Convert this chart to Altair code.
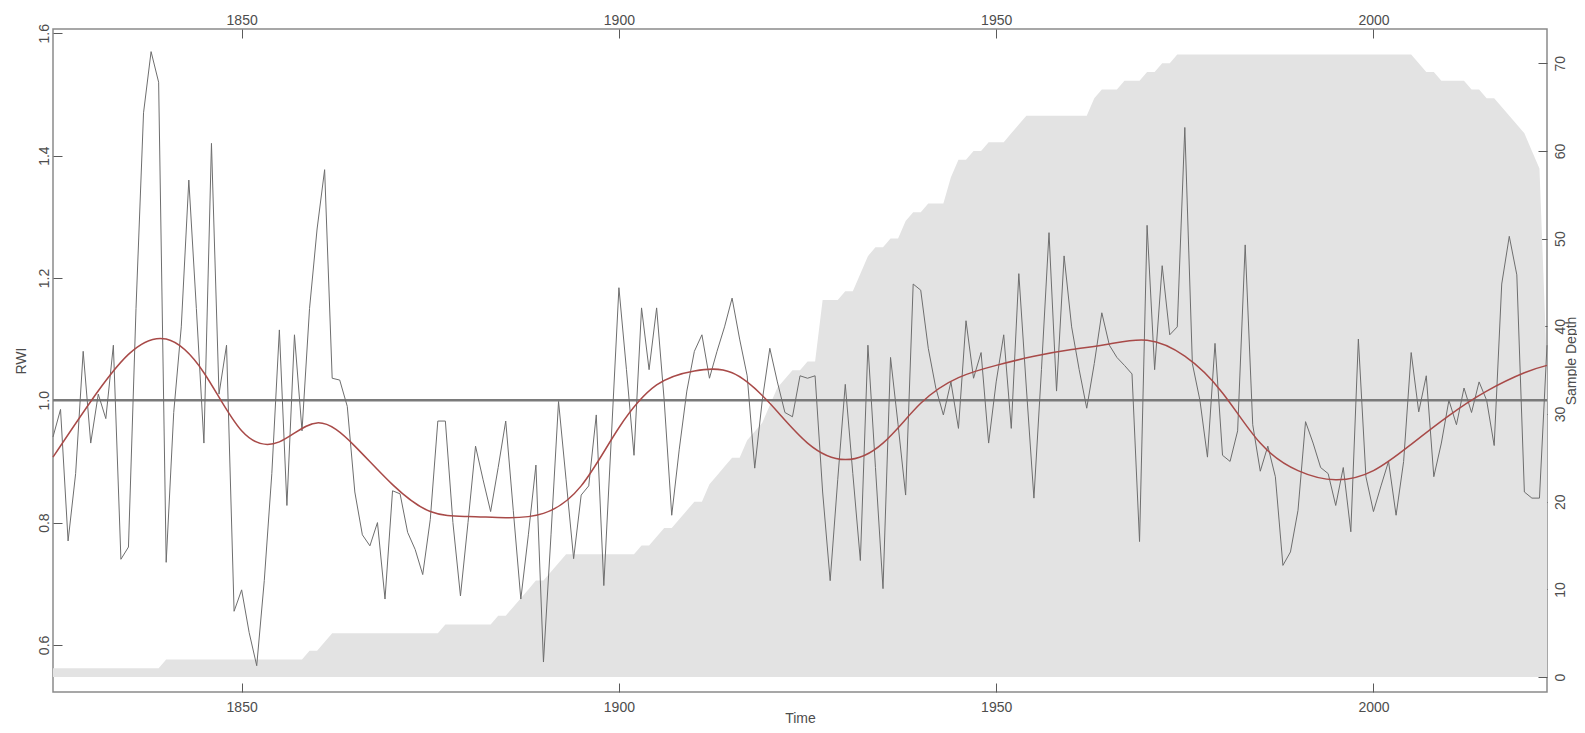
import altair as alt
import pandas as pd

# ---------------- data ----------------
years = list(range(1825, 2024))

rwi = [
    # 1825-1849
    0.94, 0.985, 0.77, 0.88, 1.08, 0.93, 1.01, 0.97, 1.09, 0.74,
    0.76, 1.15, 1.47, 1.57, 1.52, 0.735, 0.98, 1.12, 1.36, 1.15,
    0.93, 1.42, 1.01, 1.09, 0.655,
    # 1850-1874
    0.69, 0.62, 0.566, 0.705, 0.88, 1.115, 0.828, 1.107, 0.95, 1.15,
    1.28, 1.377, 1.036, 1.033, 0.99, 0.85, 0.78, 0.762, 0.80, 0.675,
    0.852, 0.847, 0.784, 0.756, 0.715,
    # 1875-1899
    0.805, 0.966, 0.966, 0.80, 0.68, 0.80, 0.925, 0.87, 0.818, 0.89,
    0.966, 0.82, 0.675, 0.78, 0.894, 0.572, 0.78, 0.998, 0.87, 0.741,
    0.845, 0.86, 0.976, 0.697, 0.94,
    # 1900-1924
    1.184, 1.05, 0.91, 1.151, 1.05, 1.151, 1.00, 0.812, 0.92, 1.015,
    1.08, 1.107, 1.036, 1.08, 1.12, 1.167, 1.10, 1.04, 0.889, 1.00,
    1.085, 1.03, 0.98, 0.973, 1.04,
    # 1925-1949
    1.036, 1.04, 0.85, 0.705, 0.87, 1.026, 0.88, 0.738, 1.09, 0.89,
    0.692, 1.07, 0.96, 0.845, 1.19, 1.18, 1.085, 1.02, 0.976, 1.03,
    0.954, 1.13, 1.036, 1.078, 0.93,
    # 1950-1974
    1.03, 1.107, 0.954, 1.207, 1.02, 0.84, 1.05, 1.274, 1.015, 1.236,
    1.12, 1.05, 0.987, 1.06, 1.143, 1.09, 1.07, 1.057, 1.043, 0.769,
    1.286, 1.05, 1.22, 1.107, 1.12,
    # 1975-1999
    1.446, 1.06, 1.0, 0.907, 1.093, 0.91, 0.90, 0.95, 1.254, 0.96,
    0.884, 0.925, 0.875, 0.73, 0.752, 0.82, 0.965, 0.93, 0.89, 0.88,
    0.828, 0.89, 0.785, 1.10, 0.875,
    # 2000-2023
    0.818, 0.86, 0.90, 0.812, 0.90, 1.078, 0.981, 1.04, 0.875, 0.93,
    1.00, 0.96, 1.02, 0.98, 1.03, 1.00, 0.926, 1.19, 1.268, 1.205,
    0.85, 0.84, 0.84, 1.09,
]

sample_depth = [
    # 1825-1849
    1, 1, 1, 1, 1, 1, 1, 1, 1, 1, 1, 1, 1, 1, 1,
    2, 2, 2, 2, 2, 2, 2, 2, 2, 2,
    # 1850-1874
    2, 2, 2, 2, 2, 2, 2, 2, 2, 3, 3, 4, 5, 5, 5, 5, 5, 5, 5, 5,
    5, 5, 5, 5, 5,
    # 1875-1899
    5, 5, 6, 6, 6, 6, 6, 6, 6, 7, 7, 8, 9, 10, 11, 11, 12, 13, 14, 14,
    14, 14, 14, 14, 14,
    # 1900-1924
    14, 14, 14, 15, 15, 16, 17, 17, 18, 19, 20, 20, 22, 23, 24, 25, 25, 27, 28, 29,
    31, 33, 34, 35, 35,
    # 1925-1949
    36, 36, 43, 43, 43, 44, 44, 46, 48, 49, 49, 50, 50, 52, 53, 53, 54, 54, 54, 57,
    59, 59, 60, 60, 61,
    # 1950-1974
    61, 61, 62, 63, 64, 64, 64, 64, 64, 64, 64, 64, 64, 66, 67, 67, 67, 68, 68, 68,
    69, 69, 70, 70, 71,
    # 1975-1999
    71, 71, 71, 71, 71, 71, 71, 71, 71, 71, 71, 71, 71, 71, 71, 71, 71, 71, 71, 71,
    71, 71, 71, 71, 71,
    # 2000-2023
    71, 71, 71, 71, 71, 71, 70, 69, 69, 68, 68, 68, 68, 67, 67, 66, 66, 65, 64, 63,
    62, 60, 58, 35,
]

spline_years = [1825, 1830, 1835, 1840, 1845, 1850, 1855, 1860, 1865, 1870,
                1875, 1880, 1885, 1890, 1895, 1900, 1905, 1910, 1915, 1920,
                1925, 1930, 1935, 1940, 1945, 1950, 1955, 1960, 1965, 1970,
                1975, 1980, 1985, 1990, 1995, 2000, 2005, 2010, 2015, 2020, 2023]
spline_vals = [0.907, 0.998, 1.075, 1.100, 1.045, 0.950, 0.932, 0.963, 0.925, 0.862,
               0.818, 0.810, 0.808, 0.815, 0.860, 0.955, 1.025, 1.048, 1.045, 0.995,
               0.930, 0.903, 0.930, 0.995, 1.037, 1.057, 1.072, 1.083, 1.092, 1.098,
               1.072, 1.012, 0.930, 0.885, 0.870, 0.885, 0.928, 0.975, 1.015, 1.045, 1.057]

ref_level = [1.0]

year_ticks = [1850, 1900, 1950, 2000]
rwi_ticks = [0.6, 0.8, 1.0, 1.2, 1.4, 1.6]
depth_ticks = [0, 10, 20, 30, 40, 50, 60, 70]

assert len(years) == len(rwi) == len(sample_depth)

df = pd.DataFrame({"year": years, "rwi": rwi, "depth": sample_depth})
sp = pd.DataFrame({"year": spline_years, "spline": spline_vals})
ref = pd.DataFrame({"level": ref_level})

# ---------------- styling ----------------
FONT = "Liberation Sans"
TXT = "#4d4d4d"
TICK = 9

x_scale = alt.Scale(domain=[1825, 2023], nice=False, zero=False)
rwi_scale = alt.Scale(domain=[0.523, 1.607], nice=False, zero=False)
dep_scale = alt.Scale(domain=[-1.7, 73.9], nice=False, zero=False)

common = dict(
    domain=False, grid=False, ticks=True, tickSize=TICK, tickColor="#5a5a5a",
    tickWidth=1, offset=-TICK, labelFont=FONT, labelFontSize=14, labelColor=TXT,
    titleFont=FONT, titleFontSize=14, titleColor=TXT, titleFontWeight="normal",
)

x_bottom = alt.Axis(orient="bottom", values=year_ticks, format="d", labelPadding=8,
                    title="Time", titlePadding=-3, **common)
x_top = alt.Axis(orient="top", values=year_ticks, format="d", labelPadding=2,
                 title=None, **common)
y_left = alt.Axis(orient="left", values=rwi_ticks, format=".1f", labelAngle=270,
                  labelAlign="center", labelBaseline="bottom", labelPadding=2,
                  title="RWI", titlePadding=9, titleAngle=270, **common)
y_right = alt.Axis(orient="right", values=depth_ticks, format="d", labelAngle=270,
                   labelAlign="center", labelBaseline="top", labelPadding=6,
                   title="Sample Depth", titleAngle=270, titleBaseline="top",
                   titlePadding=-3, **common)

area = alt.Chart(df).mark_area(color="#e3e3e3", interpolate="linear").encode(
    x=alt.X("year:Q", scale=x_scale, axis=x_top),
    y=alt.Y("depth:Q", scale=dep_scale, axis=y_right),
)

rule = alt.Chart(ref).mark_rule(color="#7a7a7a", strokeWidth=2.5).encode(
    y=alt.Y("level:Q", scale=rwi_scale, axis=None),
)

rwi_line = alt.Chart(df).mark_line(color="#6e6e6e", strokeWidth=1).encode(
    x=alt.X("year:Q", scale=x_scale, axis=x_bottom),
    y=alt.Y("rwi:Q", scale=rwi_scale, axis=y_left),
)

spline = alt.Chart(sp).mark_line(color="#a84a48", strokeWidth=1.5, interpolate="natural").encode(
    x=alt.X("year:Q", scale=x_scale, axis=None),
    y=alt.Y("spline:Q", scale=rwi_scale, axis=None),
)

chart = (
    alt.layer(area, rule, rwi_line, spline)
    .resolve_scale(y="independent")
    .resolve_axis(x="independent", y="independent")
    .properties(
        width=1494, height=663,
        autosize=alt.AutoSizeParams(type="none"),
        padding={"left": 45, "top": 21, "right": 30, "bottom": 32},
    )
    .configure_view(stroke="#8a8a8a", strokeWidth=1.5)
)

chart.save("out.html", embed_options={"renderer": "svg", "actions": False})
